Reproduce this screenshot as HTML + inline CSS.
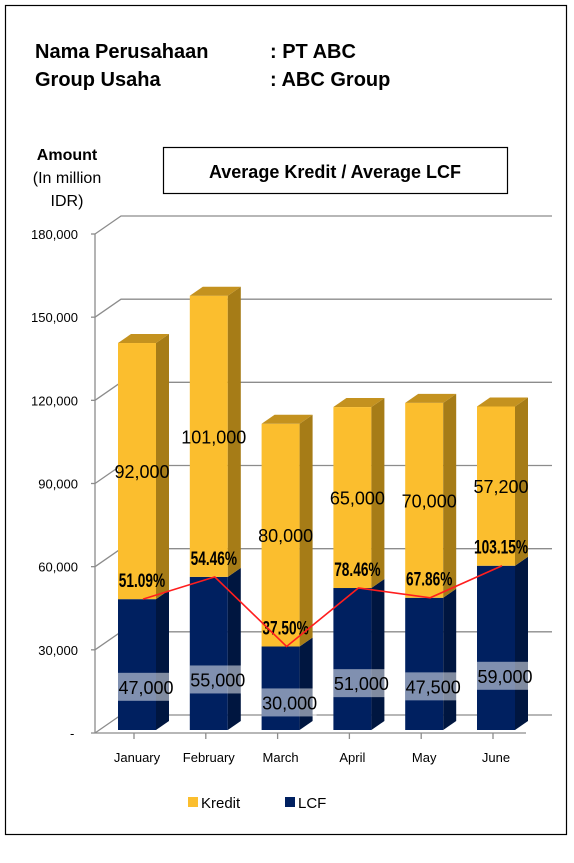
<!DOCTYPE html>
<html><head><meta charset="utf-8"><style>
body{margin:0;background:#fff;width:574px;height:858px;overflow:hidden;font-family:"Liberation Sans",sans-serif}
</style></head><body>
<svg width="574" height="858" xmlns="http://www.w3.org/2000/svg" font-family="Liberation Sans, sans-serif" id="chart">
<rect x="5.5" y="5.5" width="561" height="829" fill="#fff" stroke="#000" stroke-width="1.2"/>
<text x="35" y="58" font-size="20" font-weight="bold">Nama Perusahaan</text>
<text x="270" y="58" font-size="20" font-weight="bold">: PT ABC</text>
<text x="35" y="86" font-size="20" font-weight="bold">Group Usaha</text>
<text x="270" y="86" font-size="20" font-weight="bold">: ABC Group</text>
<text x="67" y="160" font-size="16" font-weight="bold" text-anchor="middle">Amount</text>
<text x="67" y="183" font-size="16" text-anchor="middle">(In million</text>
<text x="67" y="206" font-size="16" text-anchor="middle">IDR)</text>
<rect x="163.5" y="147.5" width="344" height="46" fill="#fff" stroke="#000" stroke-width="1.2"/>
<text x="335" y="178" font-size="18" font-weight="bold" text-anchor="middle">Average Kredit / Average LCF</text>
<g id="grid"></g><g id="bars"></g><g id="labels"></g>
<g>
<rect x="188" y="797" width="10" height="10" fill="#FBBE2E"/>
<text x="201" y="808" font-size="15">Kredit</text>
<rect x="285" y="797" width="10" height="10" fill="#002060"/>
<text x="298" y="808" font-size="15">LCF</text>
</g>
</svg>
<script>
const categories=["January","February","March","April","May","June"];
const lcf=[47000,55000,30000,51000,47500,59000];
const kredit=[92000,101000,80000,65000,70000,57200];
const ratio=["51.09%","54.46%","37.50%","78.46%","67.86%","103.15%"];
const ticks=[0,30000,60000,90000,120000,150000,180000];
const tickLabels=["-","30,000","60,000","90,000","120,000","150,000","180,000"];
const NS="http://www.w3.org/2000/svg";
function mk(p,t,a){const e=document.createElementNS(NS,t);for(const k in a)e.setAttribute(k,a[k]);p.appendChild(e);return e;}
const axY=v=>733-v*(499/180000);
const barY=v=>730-v*0.002784;
const barX=i=>118+i*71.8;
const grid=document.getElementById('grid'),bars=document.getElementById('bars'),labels=document.getElementById('labels');
ticks.forEach((t,i)=>{
 const y=axY(t);
 const l=mk(grid,'path',{d:`M95 ${y} L121 ${y-18} L552 ${y-18}`,stroke:'#8c8c8c','stroke-width':1.3,fill:'none'});
 
 mk(grid,'line',{x1:91,x2:95,y1:y,y2:y,stroke:'#8c8c8c','stroke-width':1.3});
 const tx=mk(grid,'text',{x:t===0?70:78,y:y+5,'font-size':13,'text-anchor':t===0?'start':'end'});tx.textContent=tickLabels[i];
 
});
mk(grid,'line',{x1:95,x2:95,y1:axY(0),y2:axY(180000),stroke:'#8c8c8c','stroke-width':1.3});
mk(grid,'line',{x1:95,x2:526,y1:axY(0),y2:axY(0),stroke:'#8c8c8c','stroke-width':1.3});
const w=38,dx=13,dy=9;
function box(x,y0,y1,f,s,t,name){
 const g=mk(bars,'g',{});
 
 mk(g,'rect',{x:x,y:y1,width:w,height:y0-y1,fill:f});
 mk(g,'polygon',{points:`${x+w},${y0} ${x+w+dx},${y0-dy} ${x+w+dx},${y1-dy} ${x+w},${y1}`,fill:s});
 if(t)mk(g,'polygon',{points:`${x},${y1} ${x+dx},${y1-dy} ${x+w+dx},${y1-dy} ${x+w},${y1}`,fill:t});
}
const pts=[];
categories.forEach((c,i)=>{
 const x=barX(i),y0=barY(0),y1=barY(lcf[i]),y2=barY(lcf[i]+kredit[i]);
 box(x,y0,y1,'#002060','#001640',null,'bar-lcf-'+i);
 box(x,y1,y2,'#FBBE2E','#A67C17','#C4921F','bar-kredit-'+i);
 pts.push([x+w/2+6,y1]);
 mk(grid,'line',{x1:x+w/2-3,x2:x+w/2-3,y1:733,y2:739,stroke:'#8c8c8c','stroke-width':1.3});
 const cx=mk(labels,'text',{x:x+w/2,y:762,'font-size':13,'text-anchor':'middle'});cx.textContent=c;
 
 const ly=y0-lcf[i]*0.002784*0.33;
 mk(labels,'rect',{x:x,y:ly-14,width:w+dx+4,height:28,fill:'#fff','fill-opacity':0.5});
 const lt=mk(labels,'text',{x:x+w/2+9,y:ly+7,'font-size':18,'text-anchor':'middle'});lt.textContent=lcf[i].toLocaleString('en-US');
 
 const kt=mk(labels,'text',{x:x+w/2+5,y:(y1+y2)/2+7,'font-size':18,'text-anchor':'middle'});kt.textContent=kredit[i].toLocaleString('en-US');
 
 const px=x+w/2+5;
 const pt=mk(labels,'text',{x:px,y:y1-12,'font-size':19,'font-weight':'bold','text-anchor':'middle',transform:`translate(${px*0.28},0) scale(0.72,1)`});pt.textContent=ratio[i];
 
});
const ln=mk(labels,'polyline',{points:pts.map(p=>p.join(',')).join(' '),fill:'none',stroke:'#FF1E1E','stroke-width':1.6});

</script>
</body></html>
